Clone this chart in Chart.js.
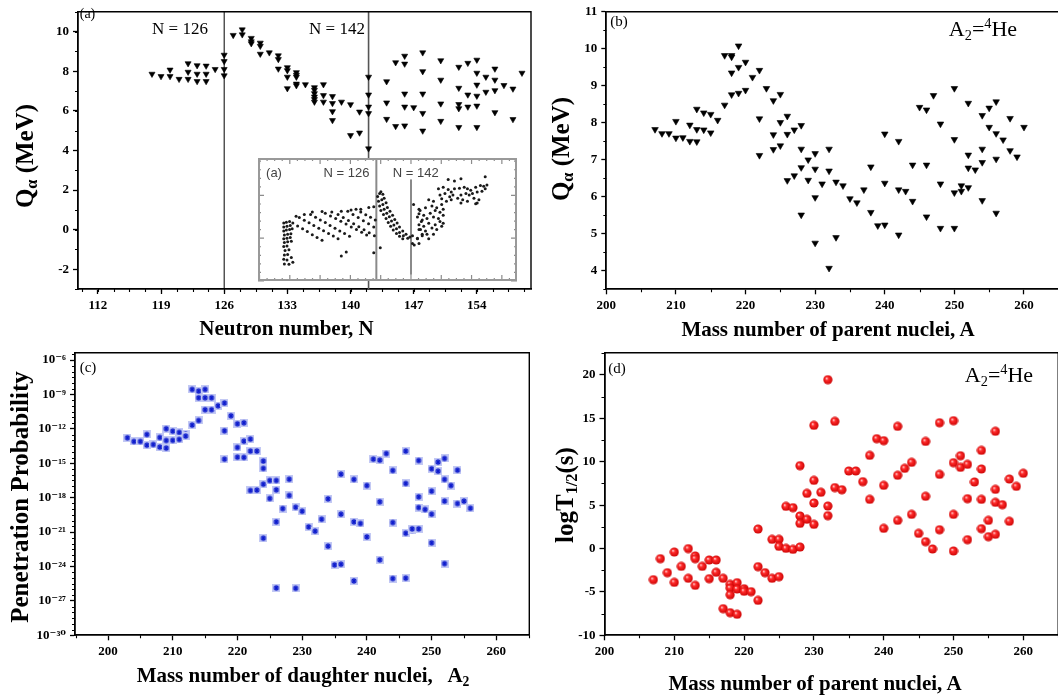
<!DOCTYPE html>
<html>
<head>
<meta charset="utf-8">
<script src="https://cdn.jsdelivr.net/npm/chart.js@4.4.1/dist/chart.umd.min.js"></script>
<style>
html, body { margin: 0; padding: 0; background: #fff; width: 1058px; height: 700px; overflow: hidden; }
canvas { position: absolute; }
.t { position: absolute; font-family: 'Liberation Serif', 'Times New Roman', serif; color: #000; white-space: nowrap; line-height: 1; transform: translate(-50%, -50%); }
.b { font-weight: bold; }
.r { transform: translate(-50%, -50%) rotate(-90deg); }
.s { font-family: 'Liberation Sans', Arial, sans-serif; color: #444; }
sub { font-size: 65%; vertical-align: -0.25em; }
sup { font-size: 65%; vertical-align: 0.55em; }
</style>
</head>
<body>
<canvas id="chartA" width="545" height="320" style="left:0;top:0"></canvas>
<canvas id="chartB" width="545" height="320" style="left:530px;top:0"></canvas>
<canvas id="chartC" width="545" height="370" style="left:0;top:330px"></canvas>
<canvas id="chartD" width="545" height="370" style="left:530px;top:330px"></canvas>
<canvas id="inset" width="267" height="131" style="left:254px;top:154px"></canvas>

<!-- panel labels and titles -->
<div class="t" style="left:87.5px;top:14px;font-size:14px">(a)</div>
<div class="t" style="left:180px;top:28px;font-size:17px">N = 126</div>
<div class="t" style="left:337px;top:28px;font-size:17px">N = 142</div>
<div class="t s" style="left:274px;top:172px;font-size:13px">(a)</div>
<div class="t s" style="left:346.5px;top:172px;font-size:13px">N = 126</div>
<div class="t s" style="left:415.8px;top:172px;font-size:13px">N = 142</div>
<div class="t b r" style="left:26px;top:156px;font-size:25px">Q<sub>α</sub> (MeV)</div>
<div class="t b" style="left:286.5px;top:328px;font-size:21px">Neutron number, N</div>

<div class="t" style="left:619px;top:20.5px;font-size:15px">(b)</div>
<div class="t" style="left:983px;top:28.5px;font-size:22px">A<sub>2</sub>=<sup>4</sup>He</div>
<div class="t b r" style="left:562px;top:149px;font-size:25px">Q<sub>α</sub> (MeV)</div>
<div class="t b" style="left:828px;top:329px;font-size:21px">Mass number of parent nuclei, A</div>

<div class="t" style="left:88px;top:367px;font-size:15px">(c)</div>
<div class="t b r" style="left:19px;top:497px;font-size:25px">Penetration Probability</div>
<div class="t b" style="left:303px;top:677px;font-size:21px">Mass number of daughter nuclei,&nbsp;&nbsp; A<sub>2</sub></div>

<div class="t" style="left:617px;top:368px;font-size:15px">(d)</div>
<div class="t" style="left:999px;top:375px;font-size:22px">A<sub>2</sub>=<sup>4</sup>He</div>
<div class="t b r" style="left:566px;top:495px;font-size:25px">logT<sub>1/2</sub>(s)</div>
<div class="t b" style="left:815px;top:683px;font-size:21px">Mass number of parent nuclei, A</div>

<script>
// ---------- (a) Q_alpha vs neutron number
const aN = [118, 119, 120, 120, 121, 122, 122, 122, 123, 123, 123, 124, 124, 124, 125,
  126, 126, 126, 126, 127, 128, 128, 129, 129, 129, 130, 130, 130, 131, 132, 132, 132,
  133, 133, 133, 133, 134, 134, 134, 134, 134, 135, 136, 136, 136, 136, 136, 136,
  137, 137, 137, 138, 138, 138, 138, 139, 140, 140, 141, 141, 142, 142, 142, 142, 142,
  144, 144, 144, 145, 145, 146, 146, 146, 146, 146, 147, 148, 148, 148, 148, 148,
  150, 150, 150, 150, 152, 152, 152, 152, 152, 153, 153, 153, 154, 154, 154, 154, 154, 154,
  155, 155, 156, 156, 156, 156, 157, 158, 158, 159];
const aQ = [7.86, 7.74, 8.07, 7.74, 7.6, 8.39, 7.96, 7.6, 8.29, 7.86, 7.49, 8.27, 7.86, 7.49, 8.1,
  8.82, 8.5, 8.1, 7.78, 9.82, 10.1, 9.85, 9.67, 9.5, 9.4, 9.43, 9.27, 8.87, 8.94, 8.79, 8.6, 8.12,
  8.19, 8.04, 7.71, 7.13, 7.94, 7.81, 7.71, 7.36, 7.28, 7.33, 7.18, 7.05, 6.88, 6.71, 6.58, 6.45,
  7.33, 6.78, 6.45, 6.73, 6.38, 5.97, 5.52, 6.45, 6.32, 4.76, 5.95, 4.89, 7.71, 6.81, 6.2, 5.87, 4.09,
  7.48, 6.41, 5.58, 8.44, 5.22, 8.77, 8.37, 6.86, 6.2, 5.25, 6.17, 8.94, 7.99, 6.86, 5.88, 4.99,
  8.54, 7.56, 6.36, 5.48, 8.21, 7.15, 6.33, 6.12, 5.17, 8.41, 6.81, 6.2, 8.57, 7.91, 7.31, 6.75, 6.25, 5.17,
  7.71, 6.95, 8.12, 7.56, 7.03, 5.92, 7.29, 7.11, 5.57, 7.91];
const aTickX = [112, 119, 126, 133, 140, 147, 154];
const aTickY = [-2, 0, 2, 4, 6, 8, 10];
const aMagic = [126, 142];

// ---------- (b) Q_alpha vs parent mass number
const bA = [207, 208, 209, 210, 210, 211, 212, 212, 213, 213, 213, 214, 214, 215, 215, 216,
  217, 217, 218, 218, 218, 218, 219, 219, 219, 220, 220, 221, 222, 222, 222, 223,
  224, 224, 224, 225, 225, 225, 226, 226, 226, 227, 227, 228, 228, 228, 228, 229, 229,
  230, 230, 230, 230, 231, 232, 232, 232, 233, 233, 234, 235, 236, 237, 238, 238, 239,
  240, 240, 240, 242, 242, 242, 243, 244, 244, 245, 246, 246, 246, 247, 248, 248, 248,
  250, 250, 250, 250, 251, 251, 252, 252, 252, 252, 253, 254, 254, 254, 254, 255, 255,
  256, 256, 256, 256, 257, 258, 258, 259, 260];
const bQ = [7.82, 7.71, 7.71, 8.04, 7.59, 7.6, 7.94, 7.5, 8.37, 7.82, 7.49, 8.27, 7.81, 8.23, 7.73, 8.07,
  8.48, 9.82, 9.82, 9.78, 9.35, 8.76, 10.08, 9.5, 8.8, 9.64, 8.88, 9.23, 9.42, 8.11, 7.12, 8.93,
  8.6, 7.68, 7.28, 8.77, 8.01, 7.38, 8.18, 7.69, 6.44, 7.81, 6.57, 7.93, 7.29, 6.79, 5.51, 7.0, 6.45,
  7.17, 6.75, 5.98, 4.75, 6.35, 7.29, 6.7, 4.07, 6.4, 4.9, 6.3, 5.95, 5.84, 6.19, 6.81, 5.58, 5.22,
  7.7, 6.37, 5.24, 7.5, 6.19, 4.97, 6.15, 6.86, 5.88, 8.42, 8.35, 6.86, 5.46, 8.74, 7.97, 6.35, 5.15,
  8.93, 7.55, 6.11, 5.15, 6.3, 6.15, 8.53, 7.13, 6.78, 6.25, 6.73, 8.2, 7.29, 6.93, 5.9, 8.4, 7.88,
  8.57, 7.71, 7.02, 5.56, 7.54, 8.12, 7.25, 7.08, 7.88];
const bTickX = [200, 210, 220, 230, 240, 250, 260];
const bTickY = [4, 5, 6, 7, 8, 9, 10, 11];

// ---------- (c) penetration probability (log10) vs daughter mass number
const cA2 = [203, 204, 205, 206, 206, 207, 208, 208, 209, 209, 209, 210, 210, 211, 211, 212, 212,
  213, 213, 214, 214, 214, 215, 215, 215, 216, 216, 217, 218, 218, 218, 219,
  220, 220, 220, 221, 221, 221, 222, 222, 222, 223, 223, 224, 224, 224, 224, 225, 225,
  226, 226, 226, 226, 227, 228, 228, 229, 229, 230, 231, 232, 233, 234, 234, 235,
  236, 236, 236, 238, 238, 238, 239, 240, 240, 241, 242, 242, 242, 243, 244, 244, 244,
  246, 246, 246, 246, 247, 247, 248, 248, 248, 248, 249, 250, 250, 250, 250, 251, 251,
  252, 252, 252, 252, 253, 254, 254, 255, 256];
const cLogP = [-12.78, -13.1, -13.1, -12.49, -13.42, -13.36, -12.75, -13.59, -11.99, -13.01, -13.68, -12.2, -13.0, -12.31, -12.92, -12.46, -12.63,
  -8.56, -11.67, -8.71, -9.29, -11.27, -8.56, -9.29, -10.33, -9.29, -10.33, -9.99, -9.75, -12.17, -14.64, -10.86,
  -11.56, -13.62, -14.47, -11.47, -13.07, -14.49, -12.89, -13.94, -17.37, -13.94, -17.34, -14.81, -15.45, -16.82, -21.53, -16.5, -18.07,
  -16.5, -17.32, -20.11, -25.87, -18.95, -16.39, -17.81, -18.83, -25.9, -19.18, -20.55, -20.92, -19.88, -18.1, -22.23, -23.86,
  -15.95, -19.44, -23.8, -16.41, -20.11, -25.26, -20.25, -16.94, -21.42, -14.64, -14.73, -18.36, -23.42, -14.15, -15.63, -20.17, -25.05,
  -13.94, -16.76, -21.1, -25.02, -20.84, -20.72, -14.76, -17.93, -18.86, -20.72, -19.03, -15.48, -17.43, -19.44, -21.94, -14.9, -15.69,
  -14.58, -16.41, -18.3, -23.75, -16.94, -15.6, -18.51, -18.3, -18.92];
const cTickX = [200, 210, 220, 230, 240, 250, 260];
const cTickExp = [-30, -27, -24, -21, -18, -15, -12, -9, -6];

// ---------- (d) log half-life vs parent mass number
const dA = [207, 208, 209, 210, 210, 211, 212, 212, 213, 213, 213, 214, 215, 215, 216, 216,
  217, 217, 218, 218, 218, 218, 219, 219, 219, 220, 220, 221, 222, 222, 222, 223,
  224, 224, 225, 225, 225, 226, 226, 227, 227, 228, 228, 228, 228, 229, 229,
  230, 230, 230, 230, 231, 232, 232, 232, 233, 233, 234, 235, 236, 237, 238, 238, 239,
  240, 240, 240, 242, 242, 242, 243, 244, 244, 245, 246, 246, 246, 247, 248, 248, 248,
  250, 250, 250, 250, 251, 251, 252, 252, 252, 253, 254, 254, 254, 254, 255, 255,
  256, 256, 256, 256, 257, 258, 258, 259, 260];
const dLogT = [-3.59, -1.17, -2.78, -0.4, -3.9, -2.05, -0.01, -3.43, -0.86, -1.17, -4.24, -2.05, -1.32, -3.47, -1.32, -2.74,
  -3.43, -6.93, -4.13, -4.55, -5.32, -7.39, -3.93, -4.66, -7.58, -4.63, -4.93, -4.97, 2.25, -2.09, -5.97, -2.78,
  1.06, -3.43, 1.06, 0.25, -3.24, 4.86, 0.02, 4.71, -0.09, 9.55, 3.75, 2.9, 0.17, 6.36, 3.37,
  14.2, 7.86, 5.25, 2.79, 6.48, 19.46, 4.9, 3.79, 14.66, 7.02, 6.78, 8.94, 8.94, 7.71, 10.74, 5.67, 12.66,
  12.43, 7.28, 2.33, 14.08, 8.44, 3.25, 9.24, 9.93, 3.94, 1.75, 12.35, 6.02, 0.79, -0.05, 14.5, 8.55, 2.17,
  14.74, 9.9, 3.94, -0.28, 10.7, 9.36, 9.7, 5.75, 1.02, 7.67, 11.32, 9.17, 5.67, 2.29, 3.25, 1.37,
  13.51, 6.82, 5.32, 1.64, 5.06, 8.01, 3.14, 7.17, 8.67];
const dTickX = [200, 210, 220, 230, 240, 250, 260];
const dTickY = [-10, -5, 0, 5, 10, 15, 20];

// ---------- inset of (a): older Q_alpha systematics (no tick labels in the picture)
const insetN = [
  83.2, 84.4, 85.9, 83.2, 84.7, 86.2, 83.2, 84.4, 85.9, 87.1, 83.5, 85.0, 86.5, 83.2, 84.7, 86.2,
  83.5, 85.0, 86.7, 83.2, 84.7, 83.8, 85.6, 83.5, 85.0, 83.2, 84.7, 86.7, 83.5, 85.6, 87.4,
  87.4, 89.6, 91.9, 94.1, 96.4, 98.6, 100.9,
  90.4, 92.7, 94.9, 97.1, 99.4, 101.6, 103.9, 106.1, 108.3,
  95.6, 97.9, 100.1, 102.4, 104.6, 106.9, 109.1, 111.3, 113.6,
  102.4, 104.8, 107.2, 109.6, 112.0, 114.4, 116.8, 119.2, 121.5,
  108.3, 110.7, 113.1, 115.5, 117.9, 120.3, 122.7, 125.1,
  112.8, 115.2, 117.6, 120.0, 122.4, 124.8,
  116.6, 118.8, 121.1, 123.3, 125.5,
  88.9, 92.7, 96.4, 100.9, 105.4, 109.8, 114.3, 118.8, 122.5, 124.8,
  109.8, 112.1, 124.8, 127.8,
  126.6, 127.5, 128.1, 129.0, 127.0, 128.5, 129.6, 127.5, 129.0, 130.5, 128.1, 129.6, 131.1,
  129.3, 130.8, 132.3, 130.5, 132.0, 133.5, 131.5, 133.0, 134.5, 132.6, 134.1, 135.6,
  133.8, 135.3, 136.7, 135.3, 136.7, 138.2, 136.7, 138.5, 139.7, 138.2, 140.5, 141.5,
  143.2, 145.0, 146.2, 146.8, 145.7, 147.2, 145.0, 142.7, 142.7, 145.0, 143.5,
  159.2, 162.1, 165.1, 176.3,
  154.7, 156.9, 159.2, 160.6, 162.1, 164.4, 166.6, 168.1, 169.6, 171.9, 174.1, 175.6, 177.1,
  155.4, 157.7, 159.9, 161.4, 163.6, 165.1, 167.4, 168.9, 170.4, 172.6, 174.8, 176.3,
  150.2, 152.4, 156.2, 158.4, 160.6, 165.9, 168.1, 171.1, 172.6, 173.4,
  145.7, 148.7, 151.7, 153.9, 156.2, 165.1, 171.9,
  145.7, 147.9, 150.9, 153.2, 155.4, 156.9,
  147.2, 149.4, 152.4, 154.7, 156.9,
  145.7, 147.9, 150.2, 153.2, 155.4, 156.9,
  146.4, 148.7, 151.7, 153.9, 156.2,
  147.2, 149.4, 152.4, 150.2, 145.7];
const insetQ = [
  4.71, 4.75, 4.78, 4.53, 4.56, 4.59, 4.34, 4.38, 4.41, 4.44, 4.15, 4.18, 4.21, 3.97, 4.00, 4.03,
  3.80, 3.83, 3.86, 3.61, 3.64, 3.42, 3.46, 3.21, 3.24, 3.02, 2.98, 3.10, 2.80, 2.78, 2.88,
  4.71, 4.57, 4.44, 4.31, 4.16, 4.03, 3.90,
  4.97, 4.84, 4.72, 4.60, 4.47, 4.35, 4.22, 4.10, 3.97,
  5.11, 4.98, 4.85, 4.73, 4.60, 4.47, 4.34, 4.22, 4.09,
  5.17, 5.04, 4.92, 4.79, 4.66, 4.53, 4.41, 4.28, 4.15,
  5.11, 4.97, 4.83, 4.68, 4.54, 4.40, 4.26, 4.12,
  5.26, 5.11, 4.97, 4.82, 4.68, 4.53,
  5.36, 5.23, 5.10, 4.98, 4.85,
  5.03, 5.11, 5.22, 5.25, 5.22, 5.26, 5.32, 5.36, 5.44, 5.47,
  3.17, 3.35, 3.32, 3.56,
  5.95, 6.09, 6.17, 6.05, 5.73, 5.80, 5.87, 5.51, 5.58, 5.66, 5.29, 5.36, 5.44,
  5.11, 5.17, 5.26, 4.92, 5.00, 5.07, 4.74, 4.81, 4.88, 4.56, 4.62, 4.71,
  4.38, 4.44, 4.53, 4.22, 4.27, 4.34, 4.09, 4.12, 4.18, 3.97, 4.00, 4.06,
  5.58, 4.99, 5.29, 4.78, 4.41, 4.19, 3.97, 3.75, 4.12, 4.00, 3.68,
  6.75, 6.68, 6.78, 6.87,
  6.31, 6.38, 6.28, 6.16, 6.31, 6.34, 6.38, 6.31, 6.24, 6.38, 6.46, 6.43, 6.49,
  6.02, 6.09, 5.94, 6.02, 5.87, 6.02, 6.09, 6.02, 6.09, 6.16, 6.19, 6.31,
  5.80, 5.73, 5.84, 5.73, 5.80, 5.80, 5.73, 5.87, 5.65, 5.80,
  5.36, 5.43, 5.51, 5.43, 5.58, 5.65, 5.61,
  5.14, 5.07, 5.17, 5.29, 5.21, 5.36,
  4.85, 4.92, 4.99, 4.92, 5.07,
  4.63, 4.56, 4.70, 4.63, 4.78, 4.70,
  4.41, 4.34, 4.48, 4.41, 4.56,
  4.12, 4.19, 4.19, 3.97, 3.75];

const SERIF = "'Liberation Serif', 'Times New Roman', 'DejaVu Serif', serif";
const tickFont = { family: SERIF, weight: 'bold', size: 13 };
const SUP = { '-': '\u207B', '0': '\u2070', '1': '\u00B9', '2': '\u00B2', '3': '\u00B3', '4': '\u2074',
  '5': '\u2075', '6': '\u2076', '7': '\u2077', '8': '\u2078', '9': '\u2079' };

const pts = (xs, ys) => xs.map((x, i) => ({ x: x, y: ys[i] }));
const steps = (from, to, step) => { const out = []; for (let v = from; v <= to + 1e-9; v += step) out.push(+v.toFixed(4)); return out; };

function axis(min, max, ticks, size, extra) {
  const o = {
    type: 'linear', min: min, max: max,
    afterBuildTicks: s => { s.ticks = ticks.map(v => ({ value: v })); },
    afterFit: s => { if (s.isHorizontal()) s.height = size; else s.width = size; },
    grid: { drawOnChartArea: false, drawTicks: true, tickLength: 5, tickWidth: 1.3, tickColor: '#000' },
    border: { display: true, color: '#000', width: 1.8 },
    ticks: { color: '#000', padding: 4, font: tickFont, maxRotation: 0, autoSkip: false }
  };
  if (extra) Object.assign(o, extra);
  return o;
}

// top/right frame lines + outward minor ticks
const framePlugin = {
  id: 'frame',
  afterDraw(chart, args, o) {
    const { ctx, chartArea: a, scales } = chart;
    ctx.save();
    ctx.strokeStyle = '#000';
    ctx.lineWidth = 1.4;
    ctx.beginPath();
    ctx.moveTo(a.left, a.top); ctx.lineTo(a.right, a.top); ctx.lineTo(a.right, a.bottom);
    ctx.stroke();
    ctx.lineWidth = 1.1;
    ctx.beginPath();
    (o.minorX || []).forEach(v => {
      const px = Math.round(scales.x.getPixelForValue(v)) + 0.5;
      ctx.moveTo(px, a.bottom); ctx.lineTo(px, a.bottom + 3);
    });
    (o.minorY || []).forEach(v => {
      const py = Math.round(scales.y.getPixelForValue(v)) + 0.5;
      ctx.moveTo(a.left, py); ctx.lineTo(a.left - 3, py);
    });
    ctx.stroke();
    ctx.restore();
  }
};

// inset: white box, grey frame, inward ticks on all sides
const insetPlugin = {
  id: 'insetBox',
  beforeDraw(chart) {
    const { ctx, chartArea: a } = chart;
    ctx.save(); ctx.fillStyle = '#fff'; ctx.fillRect(a.left, a.top, a.right - a.left, a.bottom - a.top); ctx.restore();
  },
  afterDraw(chart, args, o) {
    const { ctx, chartArea: a, scales } = chart;
    ctx.save();
    ctx.strokeStyle = '#8c8c8c';
    ctx.lineWidth = 1.2;
    ctx.beginPath();
    o.xTicks.forEach((v, i) => {
      const px = scales.x.getPixelForValue(v), len = i % 4 === 0 ? 6 : 3;
      ctx.moveTo(px, a.bottom); ctx.lineTo(px, a.bottom - len);
      ctx.moveTo(px, a.top); ctx.lineTo(px, a.top + len);
    });
    o.yTicks.forEach((v, i) => {
      const py = scales.y.getPixelForValue(v), len = i % 5 === 0 ? 6 : 3;
      ctx.moveTo(a.left, py); ctx.lineTo(a.left + len, py);
      ctx.moveTo(a.right, py); ctx.lineTo(a.right - len, py);
    });
    ctx.stroke();
    ctx.lineWidth = 2;
    ctx.strokeStyle = '#999';
    ctx.strokeRect(a.left + 1, a.top + 1, a.right - a.left - 2, a.bottom - a.top - 2);
    ctx.restore();
  }
};

function vline(x, y0, y1, color, width) {
  return { type: 'line', data: [{ x: x, y: y0 }, { x: x, y: y1 }], borderColor: color, borderWidth: width,
    pointRadius: 0, order: 2 };
}

// marker images for (c) and (d)
function starBox() {
  const c = document.createElement('canvas'); c.width = 8; c.height = 8;
  const g = c.getContext('2d');
  g.fillStyle = '#c3c9f4'; g.fillRect(0, 0, 8, 8);
  g.strokeStyle = '#0a18cc'; g.lineWidth = 1.2;
  g.beginPath();
  g.moveTo(4, 1); g.lineTo(4, 7); g.moveTo(1, 4); g.lineTo(7, 4);
  g.moveTo(1.8, 1.8); g.lineTo(6.2, 6.2); g.moveTo(6.2, 1.8); g.lineTo(1.8, 6.2);
  g.stroke();
  return c;
}
function ball() {
  const c = document.createElement('canvas'); c.width = 10; c.height = 10;
  const g = c.getContext('2d');
  const gr = g.createRadialGradient(3.6, 3.6, 0.3, 5, 5, 5);
  gr.addColorStop(0, '#ffd0d0'); gr.addColorStop(0.3, '#ff2a2a'); gr.addColorStop(1, '#c80000');
  g.fillStyle = gr; g.beginPath(); g.arc(5, 5, 4.6, 0, Math.PI * 2); g.fill();
  return c;
}

const base = {
  responsive: false, animation: false, events: [], devicePixelRatio: 1,
  plugins: { legend: { display: false }, tooltip: { enabled: false } }
};

function tri(xs, ys, r) {
  return { data: pts(xs, ys), pointStyle: 'triangle', rotation: 180, pointRadius: r,
    backgroundColor: '#000', borderColor: '#000', borderWidth: 0.6, order: 1 };
}

// (a)
new Chart(document.getElementById('chartA'), {
  type: 'scatter',
  data: { datasets: [
    vline(aMagic[0], -3, 11, '#000', 1),
    vline(aMagic[1], -3, 11, '#555', 1.6),
    tri(aN, aQ, 3.5)
  ] },
  options: Object.assign({}, base, {
    layout: { padding: { left: 0, top: 7, right: 14, bottom: 0 } },
    scales: { x: axis(109.8, 160, aTickX, 31), y: axis(-3, 11, aTickY, 78) },
    plugins: Object.assign({}, base.plugins, { frame: { minorX: steps(110.25, 159.75, 1.75), minorY: steps(-3, 11, 1) } })
  }),
  plugins: [framePlugin]
});

// (b)
new Chart(document.getElementById('chartB'), {
  type: 'scatter',
  data: { datasets: [tri(bA, bQ, 3.8)] },
  options: Object.assign({}, base, {
    layout: { padding: { left: 0, top: 7, right: 16.2, bottom: 0 } },
    scales: { x: axis(200, 265, bTickX, 30.7), y: axis(3.5, 11, bTickY, 76.3) },
    plugins: Object.assign({}, base.plugins, { frame: { minorX: steps(205, 265, 10), minorY: steps(3.5, 10.5, 1) } })
  }),
  plugins: [framePlugin]
});

// (c)
const cY = axis(Math.pow(10, -30), Math.pow(10, -5.36), [], 75, {
  type: 'logarithmic',
  afterBuildTicks: s => { s.ticks = cTickExp.map(e => ({ value: Math.pow(10, e) })); }
});
cY.ticks.callback = v => '10' + String(Math.round(Math.log10(v))).split('').map(ch => SUP[ch]).join('');
new Chart(document.getElementById('chartC'), {
  type: 'scatter',
  data: { datasets: [{ data: pts(cA2, cLogP.map(e => Math.pow(10, e))), pointStyle: starBox(), pointRadius: 4 }] },
  options: Object.assign({}, base, {
    layout: { padding: { left: 0, top: 22.7, right: 15.7, bottom: 0 } },
    scales: { x: axis(194.9, 265.1, cTickX, 64.7), y: cY },
    plugins: Object.assign({}, base.plugins, {
      frame: { minorX: steps(195, 265, 10), minorY: steps(-29.5, -5.5, 0.5).filter(e => e % 3 !== 0).map(e => Math.pow(10, e)) }
    })
  }),
  plugins: [framePlugin]
});

// (d)
new Chart(document.getElementById('chartD'), {
  type: 'scatter',
  data: { datasets: [{ data: pts(dA, dLogT), pointStyle: ball(), pointRadius: 5 }] },
  options: Object.assign({}, base, {
    layout: { padding: { left: 0, top: 22.7, right: 16.8, bottom: 0 } },
    scales: { x: axis(200, 265, dTickX, 64.7), y: axis(-10, 22.57, dTickY, 74.5) },
    plugins: Object.assign({}, base.plugins, { frame: { minorX: steps(205, 265, 10), minorY: steps(-7.5, 22.5, 5) } })
  }),
  plugins: [framePlugin]
});

// inset
new Chart(document.getElementById('inset'), {
  type: 'scatter',
  data: { datasets: [
    vline(126, 2, 7.75, '#8a8a8a', 2),
    vline(142, 2.29, 6.75, '#8a8a8a', 2),
    { data: pts(insetN, insetQ), pointStyle: 'circle', pointRadius: 1.5, backgroundColor: '#1a1a1a', borderWidth: 0, order: 1 }
  ] },
  options: Object.assign({}, base, {
    layout: { padding: 0 },
    scales: {
      x: { type: 'linear', min: 71.3, max: 191, display: false },
      y: { type: 'linear', min: 2, max: 7.75, display: false }
    },
    plugins: Object.assign({}, base.plugins, { insetBox: { xTicks: steps(72, 190, 3.5), yTicks: steps(2, 7.6, 0.4) } })
  }),
  plugins: [insetPlugin]
});
</script>
</body>
</html>
